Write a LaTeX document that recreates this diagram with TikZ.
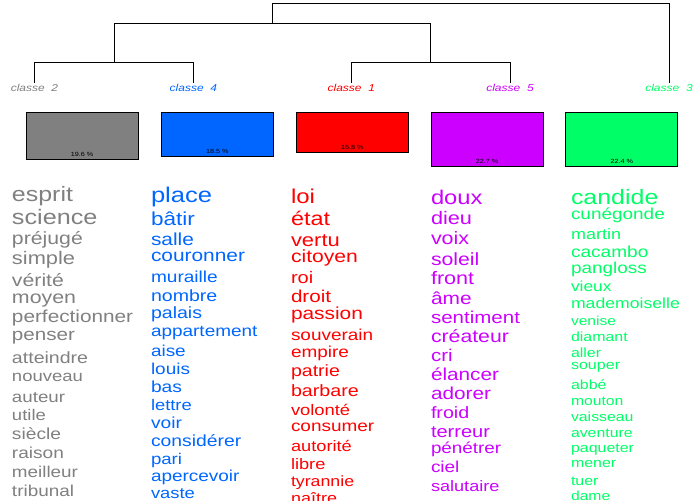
\documentclass[tikz,border=0pt]{standalone}
\usepackage{fontspec}
\newfontfamily\wf[FakeStretch=1.2]{Liberation Sans}
\definecolor{cgray}{RGB}{128,128,128}
\definecolor{cblue}{RGB}{0,102,255}
\definecolor{cred}{RGB}{255,0,0}
\definecolor{cpurple}{RGB}{204,0,255}
\definecolor{cgreen}{RGB}{0,255,102}
\tikzset{
 word/.style={anchor=base west, inner sep=0pt, outer sep=0pt},
 cls/.style={anchor=base, inner sep=0pt, font=\wf\itshape\fontsize{10}{10}\selectfont},
 clsbox/.style={draw=black, line width=0.8pt, anchor=north west, inner sep=0pt, minimum width=112pt},
 pct/.style={anchor=base, inner sep=0pt, font=\wf\fontsize{6}{6}\selectfont, text=black},
 tree/.style={draw=black, line width=0.9pt}
}
\begin{document}
\begin{tikzpicture}[x=1pt,y=-1pt]
\useasboundingbox (0,0) rectangle (700,500);
\clip (0,0) rectangle (700,500);
% class labels
\node[cls, text=cgray] (c2) at (34.5,91.7) {classe\ \ 2};
\node[cls, text=cblue] (c4) at (193.4,91.7) {classe\ \ 4};
\node[cls, text=cred] (c1) at (351.3,91.7) {classe\ \ 1};
\node[cls, text=cpurple] (c5) at (510,91.7) {classe\ \ 5};
\node[cls, text=cgreen] (c3) at (669,91.7) {classe\ \ 3};
% tree
\coordinate (t2) at ([yshift=1.5pt]c2.north);
\coordinate (t4) at ([yshift=1.5pt]c4.north);
\coordinate (t1) at ([yshift=1.5pt]c1.north);
\coordinate (t5) at ([yshift=1.5pt]c5.north);
\coordinate (t3) at ([yshift=1.5pt]c3.north);
\coordinate (j24) at (114,62.3);
\coordinate (j15) at (430.7,62.3);
\coordinate (jA) at (272.3,23.3);
\coordinate (jR) at (470.6,3.3);
\draw[tree] (t2) |- (j24) -| (t4);
\draw[tree] (t1) |- (j15) -| (t5);
\draw[tree] (j24) |- (jA) -| (j15);
\draw[tree] (jA) |- (jR) -| (t3);
% boxes
\node[clsbox, fill=cgray, minimum height=47.6pt] (b2) at (25.6,111.7) {};
\node[clsbox, fill=cblue, minimum height=44.3pt] (b4) at (161,111.7) {};
\node[clsbox, fill=cred, minimum height=40.6pt] (b1) at (296,111.7) {};
\node[clsbox, fill=cpurple, minimum height=54.3pt] (b5) at (430.7,111.7) {};
\node[clsbox, fill=cgreen, minimum height=54.3pt] (b3) at (565.3,111.7) {};
\node[pct] (p2) at ([yshift=3.8pt]b2.south) {19.6 \%};
\node[pct] (p4) at ([yshift=3.8pt]b4.south) {18.5 \%};
\node[pct] (p1) at ([yshift=3.8pt]b1.south) {16.8 \%};
\node[pct] (p5) at ([yshift=3.8pt]b5.south) {22.7 \%};
\node[pct] (p3) at ([yshift=3.8pt]b3.south) {22.4 \%};
% words class 2
\foreach \w/\y/\s [count=\i] in {esprit/201.7/20.8, science/224/21, préjugé/244/17.7, simple/264/18.2, vérité/286/17.7, moyen/303/17.8, perfectionner/322.3/17.3, penser/340/17.2, atteindre/363/16.3, nouveau/381/15.4, auteur/402/15.6, utile/420/15.4, siècle/439/16, raison/458/15.9, meilleur/477/15.7, tribunal/496/15.8}
  \node[word, text=cgray, font=\wf\fontsize{\s}{\s}\selectfont] (g\i) at (12,\y) {\w};
% words class 4
\foreach \w/\y/\s [count=\i] in {place/202/21.3, bâtir/225/18.8, salle/245/17.4, couronner/261/17.4, muraille/282/15.9, nombre/301/16.3, palais/318/16.3, appartement/336/15.8, aise/356/15.8, louis/374/15.8, bas/392/16, lettre/410/15.3, voir/428.5/16, considérer/446.5/16.1, pari/464/15.5, apercevoir/481.5/15.8, vaste/498.5/15.3}
  \node[word, text=cblue, font=\wf\fontsize{\s}{\s}\selectfont] (u\i) at (151,\y) {\w};
% words class 1
\foreach \w/\y/\s [count=\i] in {loi/203/20, état/225/19.5, vertu/246/18.3, citoyen/262/17.6, roi/283/16.7, droit/302/17.2, passion/319/17.4, souverain/340/15.8, empire/357/15.8, patrie/376/16.3, barbare/396/16.4, volonté/415/15.3, consumer/431/15.8, autorité/451/15.2, libre/469/15.2, tyrannie/486/14.8, naître/503/15}
  \node[word, text=cred, font=\wf\fontsize{\s}{\s}\selectfont] (r\i) at (291,\y) {\w};
% words class 5
\foreach \w/\y/\s [count=\i] in {doux/204/19.8, dieu/224/18.1, voix/244.5/17.9, soleil/265/17.7, front/284.5/18, âme/304/17.4, sentiment/323/17.1, créateur/342/17.7, cri/361/17.1, élancer/380/17.3, adorer/399/17.3, froid/418/16.4, terreur/437/16.7, pénétrer/453/15.7, ciel/472/15.8, salutaire/491/15.1}
  \node[word, text=cpurple, font=\wf\fontsize{\s}{\s}\selectfont] (v\i) at (431,\y) {\w};
% words class 3
\foreach \w/\y/\s [count=\i] in {candide/204/20.8, cunégonde/219.3/15.8, martin/239.3/15, cacambo/257/15.9, pangloss/273.3/15.8, vieux/291/14.5, mademoiselle/308/14.7, venise/325/13, diamant/341/13.3, aller/357/13.3, souper/369.5/13.4, abbé/389/13.3, mouton/405/13.1, vaisseau/421/13.2, aventure/437/13.2, paqueter/452/13.3, mener/467/13.3, tuer/485/13.3, dame/500/13.1}
  \node[word, text=cgreen, font=\wf\fontsize{\s}{\s}\selectfont] (h\i) at (571,\y) {\w};
\end{tikzpicture}
\end{document}
